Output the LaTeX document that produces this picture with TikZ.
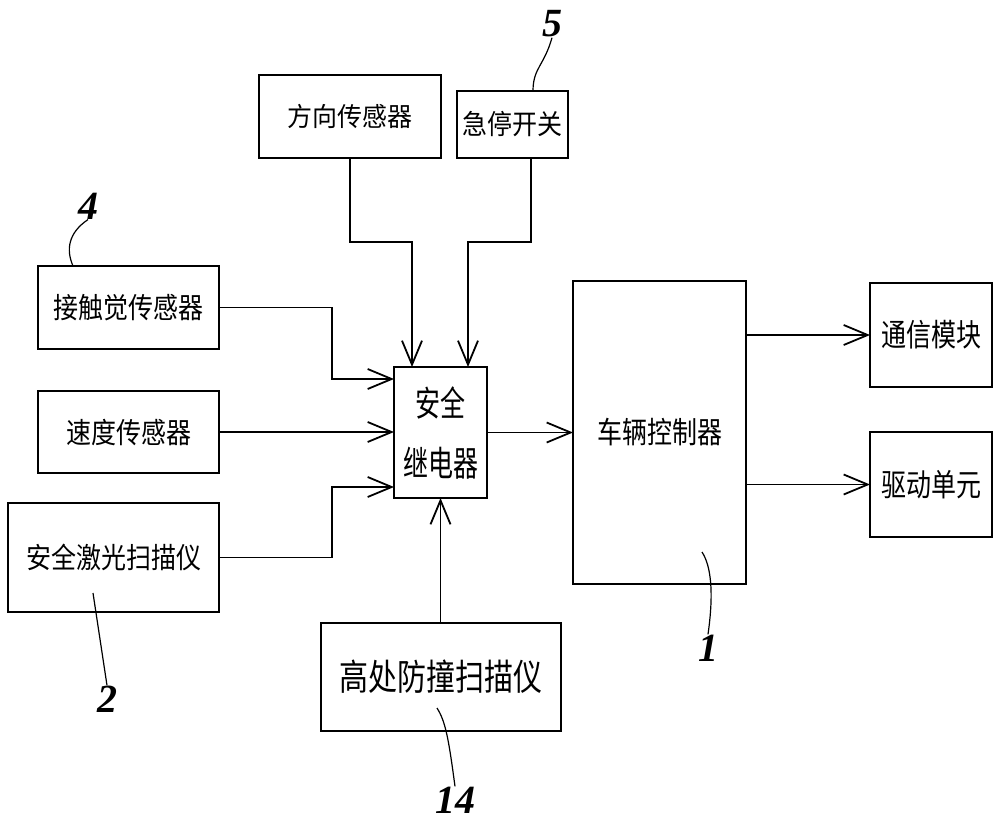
\documentclass[tikz,border=0pt]{standalone}
\usepackage{fontspec}
\setmainfont{Noto Sans CJK SC}
\newfontfamily\numfont{Liberation Serif}
\usetikzlibrary{arrows.meta,calc}
\tikzset{
  blk/.style={draw, line width=1.1pt, inner sep=0pt, outer sep=0pt, font=\fontsize{12.5}{15}\selectfont},
  conn/.style={line width=0.9pt},
  arr/.style={conn, -{Straight Barb[length=12pt,width=10pt,line width=0.9pt]}},
  lead/.style={line width=0.6pt},
  num/.style={font=\numfont\bfseries\itshape\fontsize{20}{24}\selectfont, inner sep=0pt}
}
\newcommand{\tall}[2][1.2]{\scalebox{1}[#1]{#2}}
\begin{document}
\begin{tikzpicture}[x=0.5pt,y=-0.5pt]
\fill[white] (0,0) rectangle (1000,825);
\useasboundingbox (0,0) rectangle (1000,825);

\node[blk, minimum width=91pt, minimum height=41.5pt] (dir) at (350,116.5) {\tall[1.05]{方向传感器}};
\node[blk, minimum width=55.5pt, minimum height=33.5pt] (estop) at (512.5,124.5) {\tall[1.1]{急停开关}};
\node[blk, minimum width=90.5pt, minimum height=41.5pt] (touch) at (128.5,307.5) {\tall[1.15]{接触觉传感器}};
\node[blk, minimum width=90.5pt, minimum height=41pt] (speed) at (128.5,432) {\tall[1.15]{速度传感器}};
\node[blk, minimum width=105.5pt, minimum height=54.5pt] (laser) at (113.5,557.5) {\tall[1.15]{安全激光扫描仪}};
\node[blk, minimum width=46.5pt, minimum height=65.5pt, align=center, font=\fontsize{12.5}{30}\selectfont] (relay) at (440.5,432.5) {\tall[1.4]{安全}\\\tall[1.4]{继电器}};
\node[blk, minimum width=86.5pt, minimum height=151.5pt] (ctrl) at (659.5,432.5) {\tall[1.2]{车辆控制器}};
\node[blk, minimum width=61pt, minimum height=52pt] (comm) at (931,335) {\tall[1.25]{通信模块}};
\node[blk, minimum width=61pt, minimum height=52.5pt] (drive) at (931,484.5) {\tall[1.25]{驱动单元}};
\node[blk, minimum width=120pt, minimum height=54pt, font=\fontsize{14.5}{17}\selectfont] (high) at (441,677) {\tall[1.25]{高处防撞扫描仪}};

% connectors into relay
\draw[arr] (dir.south) |- (412,242) -- (412,242 |- relay.north);
\draw[arr] (estop.south -| 531,0) |- (468,242) -- (468,242 |- relay.north);
\draw[arr] (touch.east) -| (332,379) -- (relay.west |- 0,379);
\draw[arr] (speed.east) -- (speed.east -| relay.west);
\draw[arr] (laser.east) -| (332,487) -- (relay.west |- 0,487);
\draw[arr] (high.north -| relay.south) -- (relay.south);
\draw[arr] (relay.east) -- (relay.east -| ctrl.west);
\draw[arr] (ctrl.east |- comm.west) -- (comm.west);
\draw[arr] (ctrl.east |- drive.west) -- (drive.west);

% reference numerals
\node[num] (n5) at (552,24) {5};
\node[num] (n4) at (88,206) {4};
\node[num] (n2) at (107,699) {2};
\node[num] (n1) at (708,648) {1};
\node[num] (n14) at (455,800) {14};

\coordinate (l5) at (533,91);
\coordinate (l4) at (73,266);
\coordinate (l2) at (93,593);
\coordinate (l1) at (702,552);
\coordinate (l14) at (437,708);
\draw[lead] (l5) .. controls (533,68) and (544,66) .. (n5.south);
\draw[lead] (l4) .. controls (66,250) and (68,233) .. (n4.south);
\draw[lead] (l2) -- (n2.north);
\draw[lead] (l1) .. controls (711,566) and (714,592) .. (n1.north);
\draw[lead] (l14) .. controls (446,722) and (449,742) .. (n14.north);
\end{tikzpicture}
\end{document}
